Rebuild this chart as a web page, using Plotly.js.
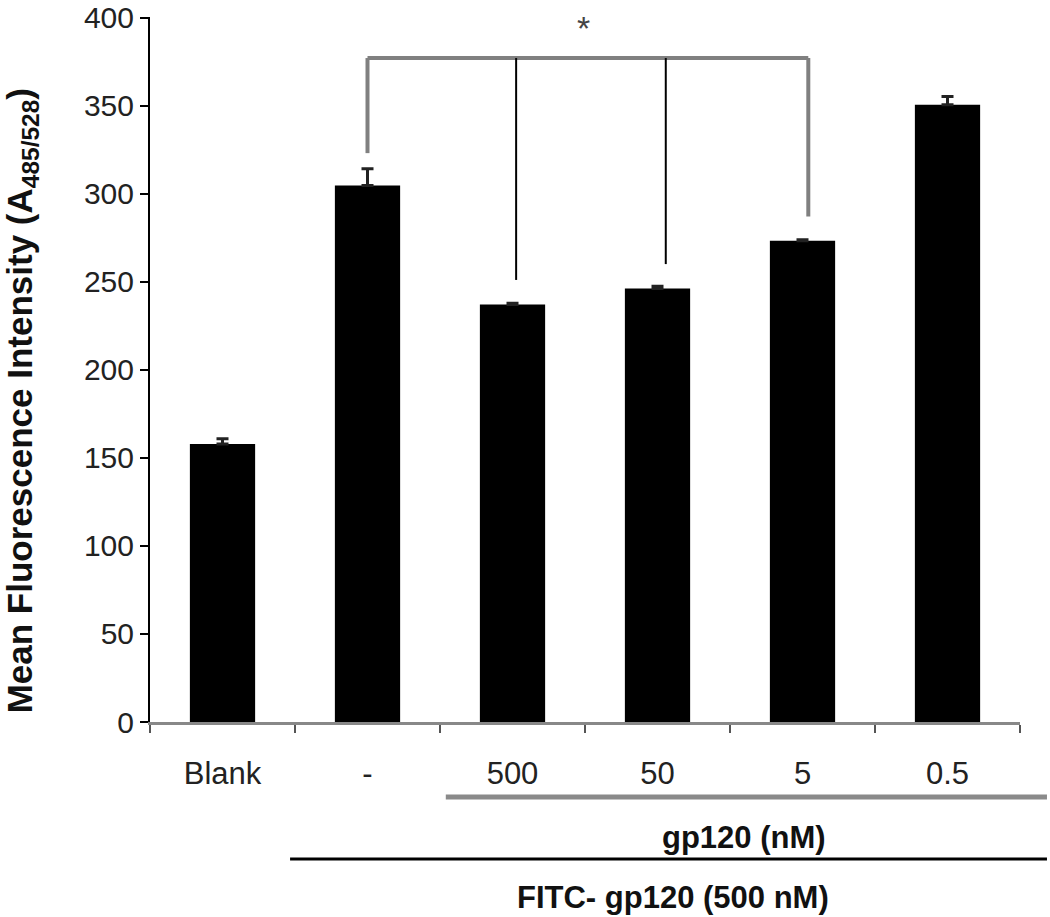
<!DOCTYPE html>
<html>
<head>
<meta charset="utf-8">
<script src="https://cdn.plot.ly/plotly-3.0.1.min.js"></script>
<style>html,body{margin:0;padding:0;background:#fff;}</style>
</head>
<body>
<div id="chart" style="width:1050px;height:917px;"></div>
<script>
// Data
const categories = ['Blank', '-', '500', '50', '5', '0.5'];
const meanIntensity = [157.8, 304.6, 237.1, 246.1, 273.2, 350.5];
const errorUpper = [3.0, 9.6, 0.6, 1.3, 0.6, 4.6];
const yTicks = [0, 50, 100, 150, 200, 250, 300, 350, 400];

// Significance bracket (control vs treated groups)
const sigControlIndex = 1;            // '-'
const sigGroupIndex = [2, 3, 4];      // '500', '50', '5'
const sigControlEnd = 323;
const sigGroupEnds = [251, 260, 287];
const sigBracketLevel = 377;
const sigLabel = '*';

// Group labels under the axis
const groupLabelInner = 'gp120 (nM)';
const groupLabelOuter = 'FITC- gp120 (500 nM)';

const FONT = 'Liberation Sans, Arial, Helvetica, sans-serif';

const trace = {
  type: 'bar',
  x: categories,
  y: meanIntensity,
  width: 0.45,
  marker: {color: '#000000', line: {color: '#000', width: 0}},
  error_y: {type: 'data', array: errorUpper, arrayminus: errorUpper.map(() => 0), symmetric: false, visible: true, color: '#222', thickness: 3, width: 6},
  hoverinfo: 'x+y'
};

const shapes = [];
const offs = [0.025, 0.057, 0.04];
// bracket: horizontal
shapes.push({type: 'line', xref: 'x', yref: 'y', x0: sigControlIndex, x1: sigGroupIndex[2] + offs[2], y0: sigBracketLevel, y1: sigBracketLevel, line: {color: '#808080', width: 4}});
// left leg (control)
shapes.push({type: 'line', xref: 'x', yref: 'y', x0: sigControlIndex, x1: sigControlIndex, y0: sigBracketLevel, y1: sigControlEnd, line: {color: '#808080', width: 4}});
// group legs
sigGroupIndex.forEach((gi, k) => {
  const last = k === sigGroupIndex.length - 1;
  shapes.push({type: 'line', xref: 'x', yref: 'y', x0: gi + offs[k], x1: gi + offs[k], y0: sigBracketLevel, y1: sigGroupEnds[k], line: {color: last ? '#808080' : '#000000', width: last ? 4 : 2}});
});
// group lines under the axis
shapes.push({type: 'line', xref: 'paper', yref: 'paper', x0: 0.340, x1: 1.031, y0: -0.1064, y1: -0.1064, line: {color: '#8a8a8a', width: 5}});
shapes.push({type: 'line', xref: 'paper', yref: 'paper', x0: 0.161, x1: 1.031, y0: -0.1943, y1: -0.1943, line: {color: '#000000', width: 3}});

const annotations = [
  {xref: 'x', yref: 'y', x: 2.49, y: 394, text: sigLabel, showarrow: false, font: {family: FONT, size: 34, color: '#444'}, xanchor: 'center', yanchor: 'middle'},
  {xref: 'paper', yref: 'paper', x: 0.683, y: -0.1645, text: '<b>' + groupLabelInner + '</b>', showarrow: false, font: {family: FONT, size: 31, color: '#111'}, xanchor: 'center', yanchor: 'middle'},
  {xref: 'paper', yref: 'paper', x: 0.601, y: -0.2496, text: '<b>' + groupLabelOuter + '</b>', showarrow: false, font: {family: FONT, size: 31, color: '#111'}, xanchor: 'center', yanchor: 'middle'},
  {xref: 'paper', yref: 'paper', x: -0.147, y: 0.455, textangle: -90, text: '<b>Mean Fluorescence Intensity (A<sub>485/528</sub>)</b>', showarrow: false, font: {family: FONT, size: 35, color: '#111'}, xanchor: 'center', yanchor: 'middle'}
];

const layout = {
  width: 1050,
  height: 917,
  margin: {l: 150, r: 30, t: 17, b: 195},
  paper_bgcolor: '#ffffff',
  plot_bgcolor: '#ffffff',
  showlegend: false,
  bargap: 0.55,
  xaxis: {
    type: 'category',
    categoryorder: 'array',
    categoryarray: categories,
    showgrid: false,
    zeroline: false,
    showline: true,
    linecolor: '#888888',
    linewidth: 3,
    ticks: 'outside',
    tickson: 'boundaries',
    ticklen: 8,
    tickwidth: 2,
    tickcolor: '#555555',
    ticklabelstandoff: 22,
    tickfont: {family: FONT, size: 31, color: '#222'}
  },
  yaxis: {
    range: [0, 400.3],
    tickvals: yTicks,
    ticktext: yTicks.map(String),
    ticklabeloverflow: 'allow',
    showgrid: false,
    zeroline: false,
    showline: true,
    linecolor: '#000000',
    linewidth: 2,
    ticks: 'outside',
    ticklen: 8,
    tickwidth: 2,
    tickcolor: '#000000',
    tickfont: {family: FONT, size: 30, color: '#222'}
  },
  shapes: shapes,
  annotations: annotations
};

Plotly.newPlot('chart', [trace], layout, {displayModeBar: false, staticPlot: true});
</script>
</body>
</html>
